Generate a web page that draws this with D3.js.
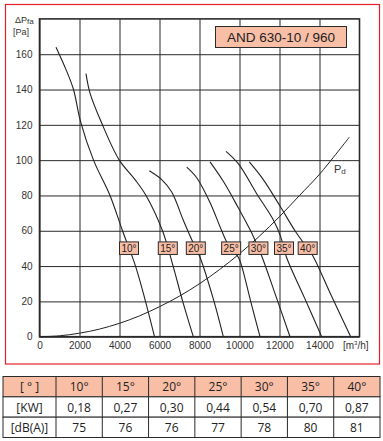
<!DOCTYPE html>
<html>
<head>
<meta charset="utf-8">
<script src="https://cdn.jsdelivr.net/npm/d3@7"></script>
<style>
  body { margin: 0; background: #fff; }
  svg { display: block; }
</style>
</head>
<body>
<svg id="chart" width="383" height="441"></svg>
<script>
// fan curves: [flow m3/h, static pressure Pa]
const angles = ['10°', '15°', '20°', '25°', '30°', '35°', '40°'];
const curve10 = [[825, 164], [1300, 152], [1700, 140], [2050, 122], [2700, 100], [3525, 80], [4150, 60], [4800, 40], [5300, 20], [5750, 0]];
const curve15 = [[2325, 149], [2525, 138], [3110, 121], [3990, 100], [4775, 89], [5325, 80], [6150, 60], [6680, 40], [7160, 20], [7690, 0]];
const curve20 = [[5490, 94], [6110, 89], [6610, 82], [7190, 66], [7690, 53], [8025, 45], [8725, 20], [9190, 0]];
const curve25 = [[7360, 96], [7860, 90], [8525, 76], [9110, 60], [9440, 52], [9940, 45], [10110, 40], [10560, 20], [11025, 0]];
const curve30 = [[8525, 99], [9190, 88], [9940, 73], [10600, 59], [11100, 46], [11850, 22], [12525, 0]];
const curve35 = [[9325, 105], [9940, 98], [10860, 81], [11700, 66], [12050, 57], [12350, 45], [13250, 22], [14110, 0]];
const curve40 = [[10490, 99], [11190, 89], [12025, 74], [12775, 60], [13275, 52], [13610, 47], [14600, 23], [15560, 0]];
const curves = [curve10, curve15, curve20, curve25, curve30, curve35, curve40];
// dynamic pressure line
const pd = [[0, 0], [1000, 0.5], [2000, 2], [3000, 4.3], [4000, 7.6], [5000, 11.8], [6000, 17], [7000, 23], [8000, 30], [9000, 38], [10000, 47], [11000, 57], [12000, 68], [13000, 80], [14000, 92], [15490, 113]];

const xTicks = [0, 2000, 4000, 6000, 8000, 10000, 12000, 14000];
const yTicks = [0, 20, 40, 60, 80, 100, 120, 140, 160];

// table
const rowHeads = ['[ ° ]', '[KW]', '[dB(A)]'];
const power = ['0,18', '0,27', '0,30', '0,44', '0,54', '0,70', '0,87'];
const noise = ['75', '76', '76', '77', '78', '80', '81'];

const svg = d3.select('#chart');
const salmon = '#f9bea6';
const ink = '#2a2a2a';

// red frame around the chart
svg.append('rect')
  .attr('x', 5.5).attr('y', 4.5)
  .attr('width', 374).attr('height', 359.5)
  .attr('fill', 'none')
  .attr('stroke', '#e3202a')
  .attr('stroke-width', 1.2);

const x = d3.scaleLinear().domain([0, 16000]).range([39.5, 359.5]);
const y = d3.scaleLinear().domain([0, 180]).range([336.7, 18.9]);

const plot = svg.append('g');

// grid
plot.append('g')
  .attr('transform', `translate(0,${y(0)})`)
  .call(d3.axisBottom(x).tickValues(xTicks).tickSize(-(y(0) - y(180))).tickFormat(''))
  .call(g => g.select('.domain').remove())
  .call(g => g.selectAll('line').attr('stroke', ink).attr('stroke-width', 1));

plot.append('g')
  .attr('transform', `translate(${x(0)},0)`)
  .call(d3.axisLeft(y).tickValues(yTicks).tickSize(-(x(16000) - x(0))).tickFormat(''))
  .call(g => g.select('.domain').remove())
  .call(g => g.selectAll('line').attr('stroke', ink).attr('stroke-width', 1));

// tick labels
plot.append('g')
  .attr('transform', `translate(0,${y(0)})`)
  .call(d3.axisBottom(x).tickValues(xTicks).tickSize(0).tickPadding(5).tickFormat(d3.format('d')))
  .call(g => g.select('.domain').remove())
  .call(g => g.selectAll('text')
    .attr('font-family', 'Liberation Sans, Arial, sans-serif')
    .attr('font-size', 10).attr('fill', '#333'));

plot.append('g')
  .attr('transform', `translate(${x(0)},0)`)
  .call(d3.axisLeft(y).tickValues(yTicks).tickSize(0).tickPadding(7))
  .call(g => g.select('.domain').remove())
  .call(g => g.selectAll('text')
    .attr('font-family', 'Liberation Sans, Arial, sans-serif')
    .attr('font-size', 10).attr('fill', '#333'));

// frame of the plot
plot.append('rect')
  .attr('x', x(0)).attr('y', y(180))
  .attr('width', x(16000) - x(0)).attr('height', y(0) - y(180))
  .attr('fill', 'none').attr('stroke', ink).attr('stroke-width', 1.6);

// axis titles
const lbl = svg.append('g')
  .attr('font-family', 'Liberation Sans, Arial, sans-serif')
  .attr('fill', '#333');
const t1 = lbl.append('text').attr('x', 15).attr('y', 23).attr('font-size', 9);
t1.append('tspan').text('ΔP');
t1.append('tspan').attr('font-size', 8).attr('dy', 1).text('fa');
lbl.append('text').attr('x', 13).attr('y', 35).attr('font-size', 9).text('[Pa]');
const tx = lbl.append('text').attr('x', 343).attr('y', 349).attr('font-size', 10);
tx.append('tspan').text('[m');
tx.append('tspan').attr('font-size', 6).attr('dy', -4).text('3');
tx.append('tspan').attr('dy', 4).text('/h]');

// curves
const line = d3.line()
  .x(d => x(d[0]))
  .y(d => y(d[1]))
  .curve(d3.curveCatmullRom.alpha(0.5));

plot.selectAll('.fan')
  .data(curves)
  .enter()
  .append('path')
  .attr('class', 'fan')
  .attr('d', line)
  .attr('fill', 'none')
  .attr('stroke', '#222')
  .attr('stroke-width', 1.1);

plot.append('path')
  .attr('d', line(pd))
  .attr('fill', 'none')
  .attr('stroke', '#222')
  .attr('stroke-width', 1);

const pdl = lbl.append('text').attr('x', 334).attr('y', 173).attr('font-size', 11);
pdl.append('tspan').text('P');
pdl.append('tspan').attr('font-size', 8).attr('dy', 1).text('d');

// angle tags where each curve crosses 50 Pa
const atPressure = (c, p) => {
  for (let i = 1; i < c.length; i++) {
    if (c[i][1] <= p && c[i - 1][1] >= p) {
      const t = (c[i - 1][1] - p) / (c[i - 1][1] - c[i][1]);
      return c[i - 1][0] + t * (c[i][0] - c[i - 1][0]);
    }
  }
  return c[c.length - 1][0];
};

const tags = plot.selectAll('.tag')
  .data(angles)
  .enter()
  .append('g')
  .attr('class', 'tag')
  .attr('transform', (d, i) => `translate(${x(atPressure(curves[i], 50))},${y(50)})`);

tags.append('rect')
  .attr('x', -9.5).attr('y', -6.5)
  .attr('width', 19).attr('height', 12.5)
  .attr('fill', salmon)
  .attr('stroke', ink)
  .attr('stroke-width', 1);

tags.append('text')
  .attr('text-anchor', 'middle')
  .attr('y', 4)
  .attr('font-family', 'Liberation Sans, Arial, sans-serif')
  .attr('font-size', 10)
  .attr('fill', '#222')
  .text(d => d);

// model box
svg.append('rect')
  .attr('x', 215.5).attr('y', 26.5)
  .attr('width', 131).attr('height', 21)
  .attr('fill', salmon)
  .attr('stroke', ink)
  .attr('stroke-width', 1);
svg.append('text')
  .attr('x', 281).attr('y', 42)
  .attr('text-anchor', 'middle')
  .attr('font-family', 'Liberation Sans, Arial, sans-serif')
  .attr('font-size', 13.5)
  .attr('fill', '#222')
  .text('AND 630-10 / 960');

// table below
const tbl = svg.append('g');
const colX = d3.scaleBand().domain(angles).range([56, 380]);
const rowY = d3.scaleBand().domain(rowHeads).range([376.5, 437.5]);
const rows = [angles, power, noise];

tbl.selectAll('.hdr')
  .data(rowHeads)
  .enter()
  .append('rect')
  .attr('x', 3).attr('y', d => rowY(d))
  .attr('width', 377).attr('height', rowY.bandwidth())
  .attr('fill', (d, i) => (i === 0 ? salmon : '#fff'))
  .attr('stroke', ink).attr('stroke-width', 1);

tbl.selectAll('.vsep')
  .data(angles)
  .enter()
  .append('line')
  .attr('x1', d => colX(d)).attr('x2', d => colX(d))
  .attr('y1', 376.5).attr('y2', 437.5)
  .attr('stroke', ink).attr('stroke-width', 1);

rowHeads.forEach((h, r) => {
  const ty = rowY(h) + rowY.bandwidth() / 2 + 4.5;
  tbl.append('text')
    .attr('x', 29.5).attr('y', ty)
    .attr('text-anchor', 'middle')
    .attr('font-family', 'Open Sans, Noto Sans, sans-serif')
    .attr('font-size', 12).attr('fill', '#222')
    .text(h);
  tbl.selectAll(`.c${r}`)
    .data(rows[r])
    .enter()
    .append('text')
    .attr('x', (d, i) => colX(angles[i]) + colX.bandwidth() / 2)
    .attr('y', ty)
    .attr('text-anchor', 'middle')
    .attr('font-family', 'Open Sans, Noto Sans, sans-serif')
    .attr('font-size', 12).attr('fill', '#222')
    .text(d => d);
});
</script>
</body>
</html>
